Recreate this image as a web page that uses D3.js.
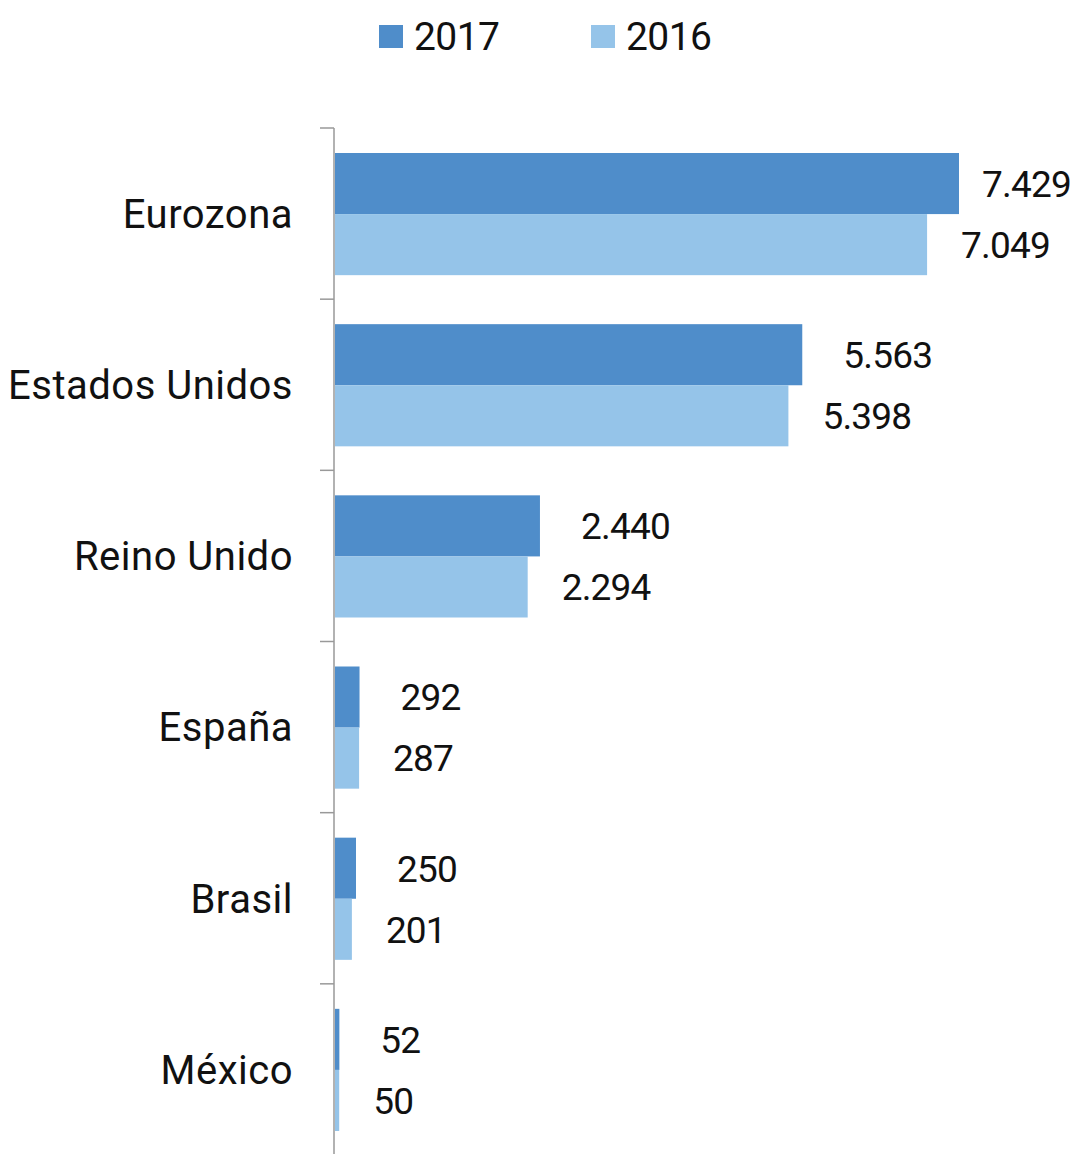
<!DOCTYPE html>
<html>
<head>
<meta charset="utf-8">
<script src="https://cdn.jsdelivr.net/npm/d3@7"></script>
<style>
  html, body { margin: 0; padding: 0; background: #fff; }
  svg text { font-family: Roboto, "Noto Sans", sans-serif; fill: #111; font-weight: 400; }
</style>
</head>
<body>
<svg id="chart" width="1075" height="1154"></svg>
<script>
const categories = ["Eurozona", "Estados Unidos", "Reino Unido", "España", "Brasil", "México"];
const seriesNames = ["2017", "2016"];
const values2017 = [7429, 5563, 2440, 292, 250, 52];
const values2016 = [7049, 5398, 2294, 287, 201, 50];
const seriesColors = ["#4F8DCA", "#95C4E9"];

(function () {
const W = 1075, H = 1154;
const axisX = 334, plotTop = 128, plotBottom = 1155;
const svg = d3.select("#chart");

const locale = d3.formatLocale({ decimal: ",", thousands: ".", grouping: [3], currency: ["", "€"] });
const fmt = locale.format(",d");

const y = d3.scaleBand().domain(categories).range([plotTop, plotBottom]).paddingInner(0).paddingOuter(0);
const inner = d3.scaleBand().domain(seriesNames).range([25, y.bandwidth() - 24]);
const x = d3.scaleLinear().domain([0, 7429]).range([axisX, 958]);

const data = categories.map((c, i) => ({ cat: c, vals: [values2017[i], values2016[i]] }));

// bars
const groups = svg.append("g").selectAll("g").data(data).join("g")
  .attr("transform", d => `translate(0,${y(d.cat)})`);
groups.selectAll("rect").data(d => d.vals.map((v, k) => ({ v, k })))
  .join("rect")
  .attr("x", x(0) + 1)
  .attr("y", d => inner(seriesNames[d.k]))
  .attr("width", d => x(d.v) - x(0))
  .attr("height", inner.bandwidth())
  .attr("fill", d => seriesColors[d.k]);

// value labels
const offsets = [42, 35];
const fs = 37;
groups.selectAll("text.val").data(d => d.vals.map((v, k) => ({ v, k })))
  .join("text").attr("class", "val")
  .attr("font-size", fs)
  .attr("letter-spacing", -0.8)
  .attr("y", d => inner(seriesNames[d.k]) + inner.bandwidth() / 2)
  .attr("dy", "0.36em")
  .text(d => fmt(d.v))
  .each(function(d) {
    const w = this.getComputedTextLength();
    let px = x(d.v) + offsets[d.k];
    if (px + w > 1071) px = 1071 - w;
    d3.select(this).attr("x", px);
  });

// axis line and category-boundary ticks
svg.append("line").attr("x1", axisX).attr("x2", axisX).attr("y1", plotTop).attr("y2", H)
  .attr("stroke", "#999").attr("stroke-width", 1.5);
const boundaries = categories.map(c => y(c)).concat([y.range()[1]]);
svg.append("g").selectAll("line").data(boundaries).join("line")
  .attr("x1", axisX - 14).attr("x2", axisX)
  .attr("y1", d => d).attr("y2", d => d)
  .attr("stroke", "#999").attr("stroke-width", 1.5);

// category labels
svg.append("g").selectAll("text").data(categories).join("text")
  .attr("x", axisX - 41)
  .attr("y", d => y(d) + y.bandwidth() / 2)
  .attr("dy", "0.36em")
  .attr("text-anchor", "end")
  .attr("font-size", 40)
  .attr("letter-spacing", 0.5)
  .text(d => d);

// legend
const legendX = [379, 591];
const lg = svg.append("g").selectAll("g").data(seriesNames).join("g")
  .attr("transform", (d, i) => `translate(${legendX[i]},0)`);
lg.append("rect").attr("x", 0).attr("y", 25).attr("width", 24).attr("height", 23)
  .attr("fill", (d, i) => seriesColors[i]);
lg.append("text").attr("x", 35).attr("y", 36).attr("dy", "0.36em")
  .attr("font-size", 39).attr("letter-spacing", -0.6).text(d => d);
})();
</script>
</body>
</html>
